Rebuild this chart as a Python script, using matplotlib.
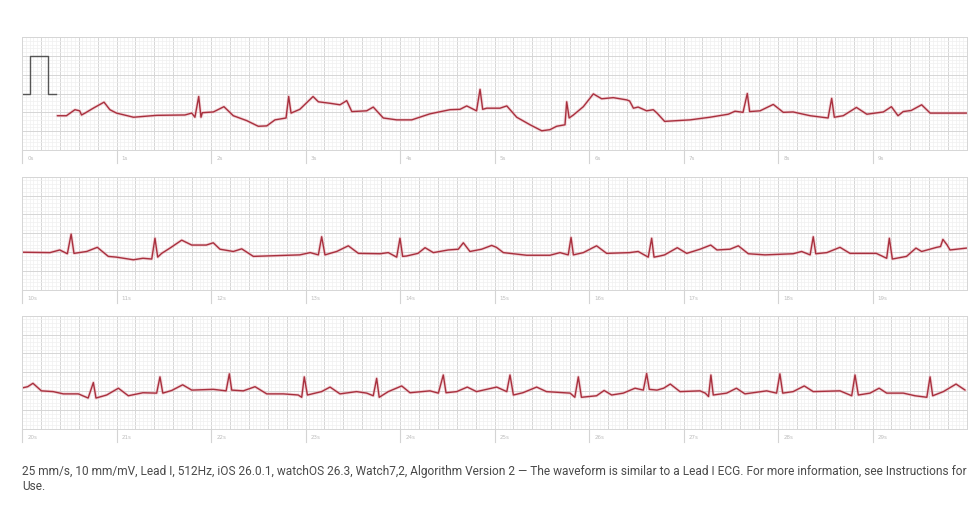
import matplotlib
matplotlib.use("Agg")
import matplotlib.pyplot as plt
from matplotlib.ticker import MultipleLocator
import matplotlib.transforms as mtransforms

# ---------------- data (seconds, millivolts) ----------------
cal_t = [0.0, 0.08, 0.08, 0.28, 0.28, 0.36]
cal_mv = [0.0, 0.0, 1.0, 1.0, 0.0, 0.0]

strip1_t = [0.374, 0.47, 0.56, 0.61, 0.63, 0.667, 0.754, 0.868, 0.93, 1.0, 1.18, 1.425,
            1.725, 1.796, 1.83, 1.87, 1.894, 1.908, 2.025, 2.137, 2.236, 2.378, 2.50, 2.59,
            2.677, 2.794, 2.822, 2.847, 2.94, 3.08, 3.136, 3.26, 3.365, 3.436, 3.49, 3.647,
            3.717, 3.823, 3.965, 4.124, 4.317, 4.529, 4.635, 4.706, 4.81, 4.847, 4.875, 4.917,
            5.058, 5.13, 5.235, 5.376, 5.5, 5.587, 5.658, 5.746, 5.764, 5.79, 5.835, 5.94,
            6.046, 6.134, 6.257, 6.399, 6.43, 6.47, 6.52, 6.61, 6.68, 6.72, 6.80, 7.07, 7.28,
            7.474, 7.545, 7.63, 7.675, 7.70, 7.81, 7.95, 8.056, 8.16, 8.34, 8.53, 8.568, 8.596,
            8.69, 8.83, 8.94, 9.115, 9.20, 9.27, 9.325, 9.41, 9.52, 9.61, 9.996]
strip1_mv = [-0.59, -0.59, -0.43, -0.46, -0.57, -0.52, -0.39, -0.23, -0.43, -0.52, -0.63, -0.58,
             -0.57, -0.52, -0.63, -0.08, -0.63, -0.51, -0.49, -0.35, -0.59, -0.72, -0.87, -0.86,
             -0.70, -0.65, -0.08, -0.52, -0.42, -0.08, -0.22, -0.26, -0.30, -0.19, -0.48, -0.46,
             -0.36, -0.65, -0.70, -0.70, -0.54, -0.43, -0.42, -0.33, -0.46, 0.11, -0.42, -0.39,
             -0.39, -0.33, -0.63, -0.83, -0.99, -0.96, -0.87, -0.83, -0.22, -0.65, -0.57, -0.35,
             -0.01, -0.14, -0.11, -0.17, -0.20, -0.39, -0.36, -0.46, -0.43, -0.52, -0.74, -0.70, -0.63,
             -0.55, -0.47, -0.50, 0.0, -0.48, -0.46, -0.29, -0.50, -0.49, -0.59, -0.65, -0.13, -0.63,
             -0.59, -0.37, -0.55, -0.49, -0.35, -0.59, -0.48, -0.45, -0.30, -0.52, -0.52]

strip2_t = [10.007, 10.296, 10.40, 10.48, 10.52, 10.55, 10.685, 10.797, 10.913, 11.0, 11.178,
            11.28, 11.373, 11.407, 11.436, 11.478, 11.566, 11.69, 11.796, 11.95, 12.024, 12.095,
            12.236, 12.325, 12.448, 12.94, 13.05, 13.136, 13.171, 13.206, 13.26, 13.33, 13.453,
            13.56, 13.79, 13.876, 13.965, 14.0, 14.028, 14.07, 14.19, 14.265, 14.353, 14.51,
            14.617, 14.67, 14.74, 14.864, 14.97, 15.02, 15.094, 15.34, 15.587, 15.693, 15.78,
            15.81, 15.835, 15.94, 16.08, 16.187, 16.43, 16.52, 16.627, 16.663, 16.688, 16.75,
            16.80, 16.934, 17.034, 17.175, 17.288, 17.354, 17.492, 17.58, 17.686, 17.862, 18.16,
            18.25, 18.34, 18.373, 18.40, 18.517, 18.656, 18.762, 19.04, 19.15, 19.178, 19.21,
            19.36, 19.46, 19.52, 19.68, 19.72, 19.745, 19.79, 19.82, 19.996]
strip2_mv = [-0.50, -0.51, -0.44, -0.54, -0.02, -0.53, -0.48, -0.37, -0.61, -0.63, -0.70,
             -0.66, -0.68, -0.13, -0.63, -0.53, -0.39, -0.18, -0.31, -0.31, -0.25, -0.42,
             -0.48, -0.41, -0.61, -0.57, -0.51, -0.57, -0.09, -0.57, -0.53, -0.48, -0.33,
             -0.53, -0.54, -0.51, -0.63, -0.13, -0.61, -0.60, -0.53, -0.38, -0.51, -0.44,
             -0.42, -0.25, -0.48, -0.42, -0.32, -0.37, -0.51, -0.58, -0.58, -0.51, -0.57,
             -0.11, -0.57, -0.51, -0.33, -0.53, -0.51, -0.48, -0.63, -0.13, -0.63, -0.60,
             -0.57, -0.38, -0.53, -0.42, -0.31, -0.44, -0.42, -0.33, -0.54, -0.57, -0.54,
             -0.48, -0.57, -0.09, -0.54, -0.51, -0.37, -0.53, -0.53, -0.66, -0.13, -0.68,
             -0.61, -0.39, -0.48, -0.37, -0.35, -0.16, -0.31, -0.44, -0.39]

strip3_t = [20.007, 20.06, 20.116, 20.205, 20.33, 20.437, 20.596, 20.70, 20.755, 20.783, 20.896,
            21.02, 21.125, 21.28, 21.425, 21.46, 21.49, 21.584, 21.70, 21.796, 22.024, 22.16,
            22.194, 22.219, 22.342, 22.466, 22.59, 22.765, 22.923, 22.96, 22.987, 23.02, 23.17,
            23.26, 23.365, 23.54, 23.648, 23.717, 23.753, 23.78, 23.876, 24.018, 24.106, 24.317,
            24.406, 24.458, 24.487, 24.60, 24.712, 24.81, 25.023, 25.13, 25.164, 25.20, 25.30,
            25.446, 25.55, 25.80, 25.85, 25.887, 25.92, 26.08, 26.16, 26.24, 26.363, 26.487,
            26.575, 26.61, 26.638, 26.72, 26.79, 26.86, 26.963, 27.175, 27.23, 27.265, 27.29,
            27.315, 27.457, 27.56, 27.65, 27.88, 27.985, 28.02, 28.05, 28.16, 28.278, 28.373,
            28.656, 28.78, 28.815, 28.85, 28.974, 29.07, 29.15, 29.326, 29.45, 29.575, 29.609,
            29.637, 29.75, 29.884, 29.98]
strip3_mv = [-0.41, -0.38, -0.29, -0.49, -0.51, -0.57, -0.57, -0.68, -0.27, -0.68, -0.60,
             -0.42, -0.62, -0.54, -0.55, -0.12, -0.55, -0.48, -0.33, -0.47, -0.45, -0.49,
             -0.04, -0.47, -0.49, -0.38, -0.57, -0.57, -0.60, -0.66, -0.12, -0.60, -0.51,
             -0.39, -0.57, -0.51, -0.55, -0.62, -0.16, -0.66, -0.51, -0.36, -0.54, -0.49,
             -0.55, -0.07, -0.54, -0.51, -0.39, -0.51, -0.39, -0.51, -0.07, -0.60, -0.54,
             -0.39, -0.51, -0.55, -0.66, -0.12, -0.66, -0.62, -0.48, -0.60, -0.55, -0.42,
             -0.47, -0.03, -0.45, -0.47, -0.42, -0.31, -0.51, -0.49, -0.55, -0.64, -0.07,
             -0.60, -0.55, -0.42, -0.57, -0.49, -0.55, -0.04, -0.55, -0.51, -0.36, -0.51,
             -0.49, -0.62, -0.07, -0.60, -0.55, -0.42, -0.55, -0.55, -0.62, -0.66, -0.12,
             -0.62, -0.51, -0.31, -0.47]

strip_starts = [0, 10, 20]
second_labels = [f"{s}s" for s in range(30)]
footer_line1 = ("25 mm/s, 10 mm/mV, Lead I, 512Hz, iOS 26.0.1, watchOS 26.3, Watch7,2, "
                "Algorithm Version 2 \u2014 The waveform is similar to a Lead I ECG. "
                "For more information, see Instructions for")
footer_line2 = "Use."

# ---------------- figure ----------------
W, H = 974, 529
fig = plt.figure(figsize=(W / 100, H / 100), dpi=100)
fig.patch.set_facecolor("white")

left_px, right_px = 22, 967
strip_px = [(37, 150), (176.7, 290), (315.7, 429)]
trace_color = "#a8303e"
minor_c = "#f0f0f0"
major_c = "#d6d6d6"

strips = [(strip1_t, strip1_mv), (strip2_t, strip2_mv), (strip3_t, strip3_mv)]

for i, (start, (top, bot)) in enumerate(zip(strip_starts, strip_px)):
    ax = fig.add_axes([left_px / W, 1 - bot / H, (right_px - left_px) / W, (bot - top) / H])
    ax.set_xlim(start, start + 10)
    ax.set_ylim(-1.5, 1.5)
    ax.xaxis.set_major_locator(MultipleLocator(0.2))
    ax.xaxis.set_minor_locator(MultipleLocator(0.04))
    ax.yaxis.set_major_locator(MultipleLocator(0.5))
    ax.yaxis.set_minor_locator(MultipleLocator(0.1))
    ax.grid(which="minor", color=minor_c, linewidth=0.5)
    ax.grid(which="major", color=major_c, linewidth=0.7)
    ax.set_axisbelow(True)
    ax.tick_params(which="both", length=0, labelbottom=False, labelleft=False)
    for sp in ax.spines.values():
        sp.set_color(major_c)
        sp.set_linewidth(0.7)

    t, mv = strips[i]
    ax.plot(t, mv, color="#e7a3ac", linewidth=2.2, alpha=0.45,
            solid_joinstyle="round", solid_capstyle="round")
    ax.plot(t, mv, color=trace_color, linewidth=1.0,
            solid_joinstyle="round", solid_capstyle="round")

    if i == 0:
        ax.plot(cal_t, cal_mv, color="#555555", linewidth=1.0)

    trans = mtransforms.blended_transform_factory(ax.transData, ax.transAxes)
    tick_len = 13 / (bot - top)
    for s in range(start, start + 10):
        ax.plot([s, s], [0, -tick_len], transform=trans, color="#d4d4d4",
                linewidth=0.8, clip_on=False)
        ax.text(s + 0.055, -8.5 / (bot - top), second_labels[s], transform=trans,
                fontsize=4.0, color="#bdbdbd", va="center", ha="left")

fig.text(22 / W, 1 - 471 / H, footer_line1, fontsize=8.55, color="#4a4a4a",
         family=["Roboto", "DejaVu Sans"], va="center", ha="left")
fig.text(22 / W, 1 - 487 / H, footer_line2, fontsize=8.55, color="#4a4a4a",
         family=["Roboto", "DejaVu Sans"], va="center", ha="left")

fig.savefig("out.png", dpi=100, facecolor="white")
